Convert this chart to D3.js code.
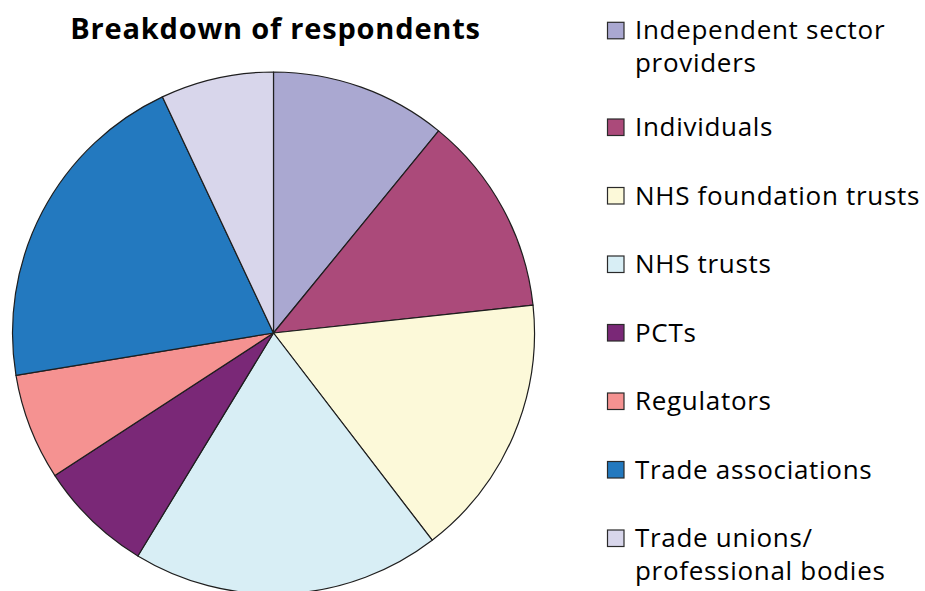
<!DOCTYPE html>
<html>
<head>
<meta charset="utf-8">
<script src="https://cdn.jsdelivr.net/npm/d3@7"></script>
<style>
  body { margin: 0; background: #fff; }
  .title { font: bold 29px "Open Sans", sans-serif; letter-spacing: 0.8px; fill: #000; }
  .legend-label { font: 26px "Open Sans", sans-serif; letter-spacing: 0.7px; fill: #000; }
</style>
</head>
<body>
<div id="chart"></div>
<script>
// respondent groups, clockwise from 12 o'clock
const categories = [
  "Independent sector providers",
  "Individuals",
  "NHS foundation trusts",
  "NHS trusts",
  "PCTs",
  "Regulators",
  "Trade associations",
  "Trade unions/ professional bodies",
];
// legend wording split over lines as in the original
const legendLines = [
  ["Independent sector", "providers"],
  ["Individuals"],
  ["NHS foundation trusts"],
  ["NHS trusts"],
  ["PCTs"],
  ["Regulators"],
  ["Trade associations"],
  ["Trade unions/", "professional bodies"],
];
// share of respondents, %
const shares = [10.9, 12.4, 16.3, 19.1, 7.1, 6.6, 20.6, 7.0];
const colors = [
  "#aaa8d1", "#ab4a7a", "#fcf9d9", "#d8eef5",
  "#7a2877", "#f59291", "#2379bf", "#d8d6eb",
];

const width = 925, height = 591;
const cx = 273.5, cy = 333, radius = 261;

const data = categories.map((c, i) => ({
  name: c, share: shares[i], color: colors[i], lines: legendLines[i],
}));

const svg = d3.select("#chart").append("svg")
  .attr("width", width)
  .attr("height", height);

svg.append("text")
  .attr("class", "title")
  .attr("x", 275.5)
  .attr("y", 39)
  .attr("text-anchor", "middle")
  .text("Breakdown of respondents");

const pie = d3.pie().sort(null).value(d => d.share);
const arc = d3.arc().innerRadius(0).outerRadius(radius);

const gPie = svg.append("g").attr("transform", `translate(${cx},${cy})`);
gPie.selectAll("path")
  .data(pie(data))
  .join("path")
  .attr("d", arc)
  .attr("fill", d => d.data.color)
  .attr("stroke", "#1e1e1e")
  .attr("stroke-width", 1.2)
  .attr("stroke-linejoin", "round");

// legend
const sq = 16.5, rowStep = 68.5, extraLine = 28.2, lineH = 33;
let extra = 0;
const rows = data.map((d, i) => {
  const top = 22.3 + rowStep * i + extraLine * extra;
  extra += d.lines.length - 1;
  return { ...d, top };
});

const gLeg = svg.append("g");
const row = gLeg.selectAll("g")
  .data(rows)
  .join("g")
  .attr("transform", d => `translate(607.5,${d.top})`);

row.append("rect")
  .attr("width", sq)
  .attr("height", sq)
  .attr("fill", d => d.color)
  .attr("stroke", "#2a2a2a")
  .attr("stroke-width", 1.2);

row.append("text")
  .attr("class", "legend-label")
  .selectAll("tspan")
  .data(d => d.lines)
  .join("tspan")
  .attr("x", 27.5)
  .attr("y", (t, j) => sq + 0.5 + j * lineH)
  .text(t => t);
</script>
</body>
</html>
